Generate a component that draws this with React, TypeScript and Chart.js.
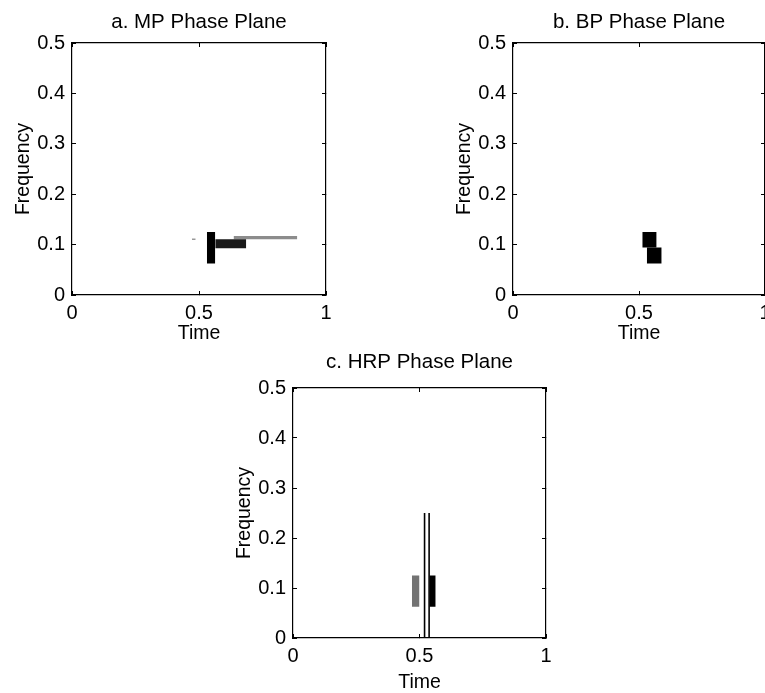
import React, { useEffect, useRef } from "react";
import { Chart, registerables } from "chart.js";

Chart.register(...registerables);

// ---- shared axis ticks ----
const timeTicks = [0, 0.5, 1];
const freqTicks = [0, 0.1, 0.2, 0.3, 0.4, 0.5];

// ---- a. MP phase plane tiles ----
const mpTimeStart = [0.531, 0.564, 0.636, 0.472];
const mpTimeEnd = [0.564, 0.686, 0.887, 0.487];
const mpFreqLow = [0.0625, 0.093, 0.1105, 0.109];
const mpFreqHigh = [0.125, 0.1105, 0.117, 0.112];
const mpEnergy = [1, 0.9, 0.45, 0.4];

// ---- b. BP phase plane tiles ----
const bpTimeStart = [0.513, 0.531];
const bpTimeEnd = [0.57, 0.59];
const bpFreqLow = [0.094, 0.0625];
const bpFreqHigh = [0.125, 0.094];
const bpEnergy = [1, 1];

// ---- c. HRP phase plane tiles ----
const hrpTimeStart = [0.47, 0.539];
const hrpTimeEnd = [0.5, 0.564];
const hrpFreqLow = [0.0625, 0.0625];
const hrpFreqHigh = [0.125, 0.125];
const hrpEnergy = [0.55, 1];
const hrpLineTimes = [0.52, 0.538];
const hrpLineFreqLow = [0, 0];
const hrpLineFreqHigh = [0.25, 0.25];

const FONT = "'Liberation Sans', Arial, Helvetica, sans-serif";
const TITLE_SIZE = 20.5;
const TICK_SIZE = 20;
const LABEL_SIZE = 19.5;
const LEFT_SPACE = 72;
const RIGHT_SPACE = 44;
const TOP_SPACE = 43;
const BOTTOM_SPACE = 58;

function grey(e: number) {
  const g = Math.round(255 * (1 - e));
  return `rgb(${g},${g},${g})`;
}

type PlaneProps = {
  title: string;
  t0: number[];
  t1: number[];
  f0: number[];
  f1: number[];
  energy: number[];
  lineT?: number[];
  lineF0?: number[];
  lineF1?: number[];
  left: number;
  top: number;
  width: number;
  height: number;
  titleGap: number;
  timeGap: number;
};

function PhasePlane(p: PlaneProps) {
  const ref = useRef<HTMLCanvasElement | null>(null);
  const cw = p.width + LEFT_SPACE + RIGHT_SPACE;
  const ch = p.height + TOP_SPACE + BOTTOM_SPACE;

  useEffect(() => {
    if (!ref.current) return;
    const datasets: any[] = [];
    p.t0.forEach((_, i) => {
      const c = grey(p.energy[i]);
      datasets.push({
        data: [
          { x: p.t0[i], y: p.f1[i] },
          { x: p.t1[i], y: p.f1[i] },
        ],
        fill: { value: p.f0[i] },
        backgroundColor: c,
        borderColor: c,
        borderWidth: 0,
        pointRadius: 0,
        tension: 0,
      });
    });
    (p.lineT || []).forEach((t, i) => {
      datasets.push({
        data: [
          { x: t, y: p.lineF0![i] },
          { x: t, y: p.lineF1![i] },
        ],
        fill: false,
        borderColor: "#000",
        borderWidth: 1.6,
        pointRadius: 0,
      });
    });

    const titleLh = TITLE_SIZE * 1.2;
    const labelLh = LABEL_SIZE * 1.2;
    const tickFont = { family: FONT, size: TICK_SIZE };
    const labelFont = { family: FONT, size: LABEL_SIZE };
    const setTicks = (arr: number[]) => (s: any) => {
      s.ticks = arr.map((v) => ({ value: v }));
    };
    const grid = { drawOnChartArea: false, tickLength: -4, color: "#000", lineWidth: 1 };
    const border = { color: "#000", width: 1.2 };

    const chart = new Chart(ref.current, {
      type: "line",
      data: { datasets },
      options: {
        animation: false,
        responsive: false,
        events: [],
        layout: { padding: { left: 0, top: 0, right: RIGHT_SPACE, bottom: 0 } },
        plugins: {
          legend: { display: false },
          tooltip: { enabled: false },
          title: {
            display: true,
            text: p.title,
            fullSize: false,
            color: "#000",
            font: { family: FONT, size: TITLE_SIZE, weight: "normal" },
            padding: {
              top: TOP_SPACE - p.titleGap - titleLh / 2,
              bottom: p.titleGap - titleLh / 2,
            },
          },
        },
        scales: {
          x: {
            type: "linear",
            position: "bottom",
            min: 0,
            max: 1,
            afterBuildTicks: setTicks(timeTicks),
            ticks: {
              font: tickFont,
              color: "#000",
              padding: 10,
              maxRotation: 0,
              autoSkip: false,
              callback: (v: any) => String(v),
            },
            grid,
            border,
            title: {
              display: true,
              text: "Time",
              color: "#000",
              font: labelFont,
              padding: { top: 0, bottom: BOTTOM_SPACE - p.timeGap - labelLh / 2 },
            },
            afterFit: (s: any) => {
              s.height = BOTTOM_SPACE;
            },
          },
          y: {
            type: "linear",
            position: "left",
            min: 0,
            max: 0.5,
            afterBuildTicks: setTicks(freqTicks),
            ticks: {
              font: tickFont,
              color: "#000",
              padding: 11,
              autoSkip: false,
              callback: (v: any) => String(v),
            },
            grid,
            border,
            title: {
              display: true,
              text: "Frequency",
              color: "#000",
              font: labelFont,
              padding: { top: 24 - labelLh / 2, bottom: 0 },
            },
            afterFit: (s: any) => {
              s.width = LEFT_SPACE;
            },
          },
          x2: {
            type: "linear",
            position: "top",
            min: 0,
            max: 1,
            afterBuildTicks: setTicks(timeTicks),
            ticks: { display: false },
            grid,
            border,
            afterFit: (s: any) => {
              s.height = 0;
            },
          },
          y2: {
            type: "linear",
            position: "right",
            min: 0,
            max: 0.5,
            afterBuildTicks: setTicks(freqTicks),
            ticks: { display: false },
            grid,
            border,
            afterFit: (s: any) => {
              s.width = 0;
            },
          },
        },
      } as any,
    });
    return () => chart.destroy();
  }, []);

  return (
    <canvas
      ref={ref}
      width={cw}
      height={ch}
      style={{
        position: "absolute",
        left: p.left - LEFT_SPACE,
        top: p.top - TOP_SPACE,
        width: cw,
        height: ch,
      }}
    />
  );
}

export default function App() {
  return (
    <div
      style={{
        position: "fixed",
        left: 0,
        top: 0,
        width: 765,
        height: 693,
        overflow: "hidden",
        background: "#fff",
      }}
    >
      <PhasePlane
        title="a. MP Phase Plane"
        t0={mpTimeStart}
        t1={mpTimeEnd}
        f0={mpFreqLow}
        f1={mpFreqHigh}
        energy={mpEnergy}
        left={72}
        top={43}
        width={254}
        height={252}
        titleGap={21}
        timeGap={39}
      />
      <PhasePlane
        title="b. BP Phase Plane"
        t0={bpTimeStart}
        t1={bpTimeEnd}
        f0={bpFreqLow}
        f1={bpFreqHigh}
        energy={bpEnergy}
        left={513}
        top={43}
        width={252}
        height={252}
        titleGap={21}
        timeGap={39}
      />
      <PhasePlane
        title="c. HRP Phase Plane"
        t0={hrpTimeStart}
        t1={hrpTimeEnd}
        f0={hrpFreqLow}
        f1={hrpFreqHigh}
        energy={hrpEnergy}
        lineT={hrpLineTimes}
        lineF0={hrpLineFreqLow}
        lineF1={hrpLineFreqHigh}
        left={293}
        top={388}
        width={253}
        height={250}
        titleGap={26}
        timeGap={45}
      />
    </div>
  );
}
